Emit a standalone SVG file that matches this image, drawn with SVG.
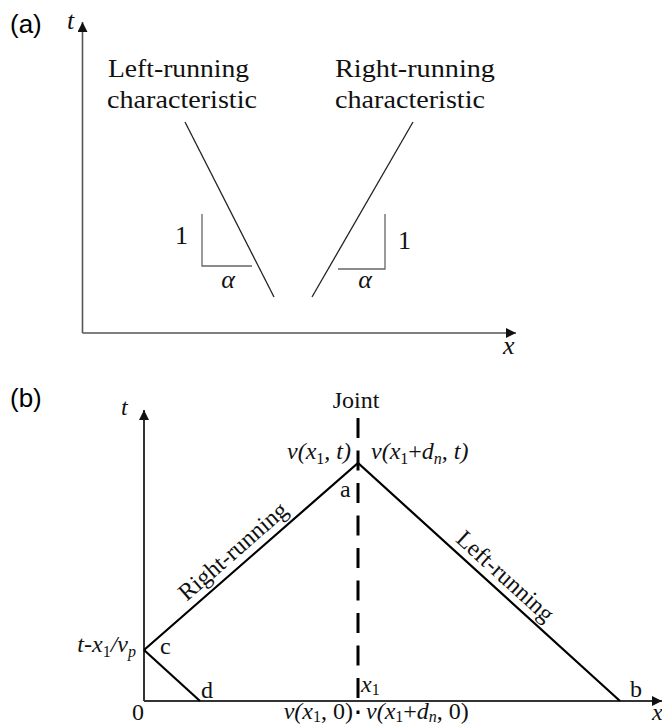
<svg xmlns="http://www.w3.org/2000/svg" width="662" height="724" viewBox="0 0 662 724">
<defs>
<style>
.lbl{font-family:"Liberation Sans",Arial,sans-serif;font-size:26px;fill:#000}
.tm{font-family:"Liberation Serif","Times New Roman",serif;font-size:26px;fill:#111}
.tb{font-family:"Liberation Serif","Times New Roman",serif;font-size:24px;fill:#111}
.it{font-style:italic}
.ax{stroke:#555;stroke-width:1.6;fill:none}
.axb{stroke:#333;stroke-width:2;fill:none}
.thin{stroke:#222;stroke-width:1.3;fill:none}
.tri{stroke:#666;stroke-width:1.3;fill:none}
.ln{stroke:#000;stroke-width:2.2;fill:none}
.dash{stroke:#000;stroke-width:3;stroke-dasharray:20 12.5;fill:none}
</style>
<marker id="ah" viewBox="0 0 10 10" refX="10" refY="5" markerWidth="10" markerHeight="10" markerUnits="userSpaceOnUse" orient="auto">
<path d="M0,0 L10,5 L0,10 Z" fill="#111"/>
</marker>
</defs>
<rect width="662" height="724" fill="#fff"/>

<!-- Panel (a) -->
<g id="panel-a">
<text class="lbl" x="10" y="33">(a)</text>
<text class="tm it" x="67" y="29">t</text>
<text class="tm it" x="503" y="354">x</text>
<g id="axes-a">
<path class="ax" d="M82.5,333 V22" marker-end="url(#ah)"/>
<path class="ax" d="M82.5,333 H516" marker-end="url(#ah)"/>
</g>
<g id="left-char">
<text class="tm" x="108" y="77" textLength="141" lengthAdjust="spacingAndGlyphs">Left-running</text>
<text class="tm" x="107" y="108" textLength="150" lengthAdjust="spacingAndGlyphs">characteristic</text>
<path class="thin" d="M185,122 L274,297"/>
<path class="tri" d="M202,214 V266 H252"/>
<text class="tm" x="175" y="244">1</text>
<text class="tm it" x="228" y="288" text-anchor="middle">α</text>
</g>
<g id="right-char">
<text class="tm" x="335" y="77" textLength="160" lengthAdjust="spacingAndGlyphs">Right-running</text>
<text class="tm" x="335" y="108" textLength="150" lengthAdjust="spacingAndGlyphs">characteristic</text>
<path class="thin" d="M413,122 L312,297"/>
<path class="tri" d="M338,269 H385 V214"/>
<text class="tm" x="398" y="249">1</text>
<text class="tm it" x="365" y="288" text-anchor="middle">α</text>
</g>
</g>

<!-- Panel (b) -->
<g id="panel-b">
<text class="lbl" x="10" y="407">(b)</text>
<text class="tb it" x="121" y="415">t</text>
<text class="tb it" x="652" y="720">x</text>
<g id="axes-b">
<path class="axb" d="M144,701 V410" marker-end="url(#ah)"/>
<path class="axb" d="M144,701 H662" marker-end="url(#ah)"/>
</g>
<g id="joint">
<text class="tb" x="356" y="408" text-anchor="middle" font-size="25">Joint</text>
<path class="dash" d="M358,418 V714"/>
</g>
<g id="connectors">
<path class="ln" d="M144,650 L358,463 L620,701"/>
<path class="ln" d="M144,650 L200,701"/>
</g>
<g id="node-a">
<text class="tb" x="340" y="497">a</text>
<text class="tb it" x="351" y="459" text-anchor="end">v(x<tspan font-style="normal" font-size="16" dy="5">1</tspan><tspan dy="-5">, t)</tspan></text>
<text class="tb it" x="371" y="459">v(x<tspan font-style="normal" font-size="16" dy="5">1</tspan><tspan font-style="normal" dy="-5">+</tspan>d<tspan font-size="16" dy="5">n</tspan><tspan dy="-5">, t)</tspan></text>
</g>
<g id="node-b">
<text class="tb" x="630" y="697">b</text>
</g>
<g id="node-c">
<text class="tb" x="160" y="654">c</text>
<text class="tb it" x="136" y="652" text-anchor="end">t-x<tspan font-style="normal" font-size="16" dy="5">1</tspan><tspan dy="-5">/v</tspan><tspan font-size="16" dy="5">p</tspan></text>
</g>
<g id="node-d">
<text class="tb" x="201" y="698">d</text>
</g>
<g id="axis-labels-b">
<text class="tb" x="132" y="720">0</text>
<text class="tb it" x="361" y="692">x<tspan font-style="normal" font-size="16" dy="3">1</tspan></text>
<text class="tb it" x="353" y="719" text-anchor="end">v(x<tspan font-style="normal" font-size="16" dy="3">1</tspan><tspan font-style="normal" dy="-3">, 0)</tspan></text>
<text class="tb it" x="366" y="719">v(x<tspan font-style="normal" font-size="16" dy="3">1</tspan><tspan font-style="normal" dy="-3">+</tspan>d<tspan font-size="16" dy="3">n</tspan><tspan font-style="normal" dy="-3">, 0)</tspan></text>
</g>
<g id="char-labels">
<text class="tb" text-anchor="middle" transform="translate(238,557) rotate(-41.1)">Right-running</text>
<text class="tb" text-anchor="middle" transform="translate(500,582) rotate(42.3)">Left-running</text>
</g>
</g>
</svg>
